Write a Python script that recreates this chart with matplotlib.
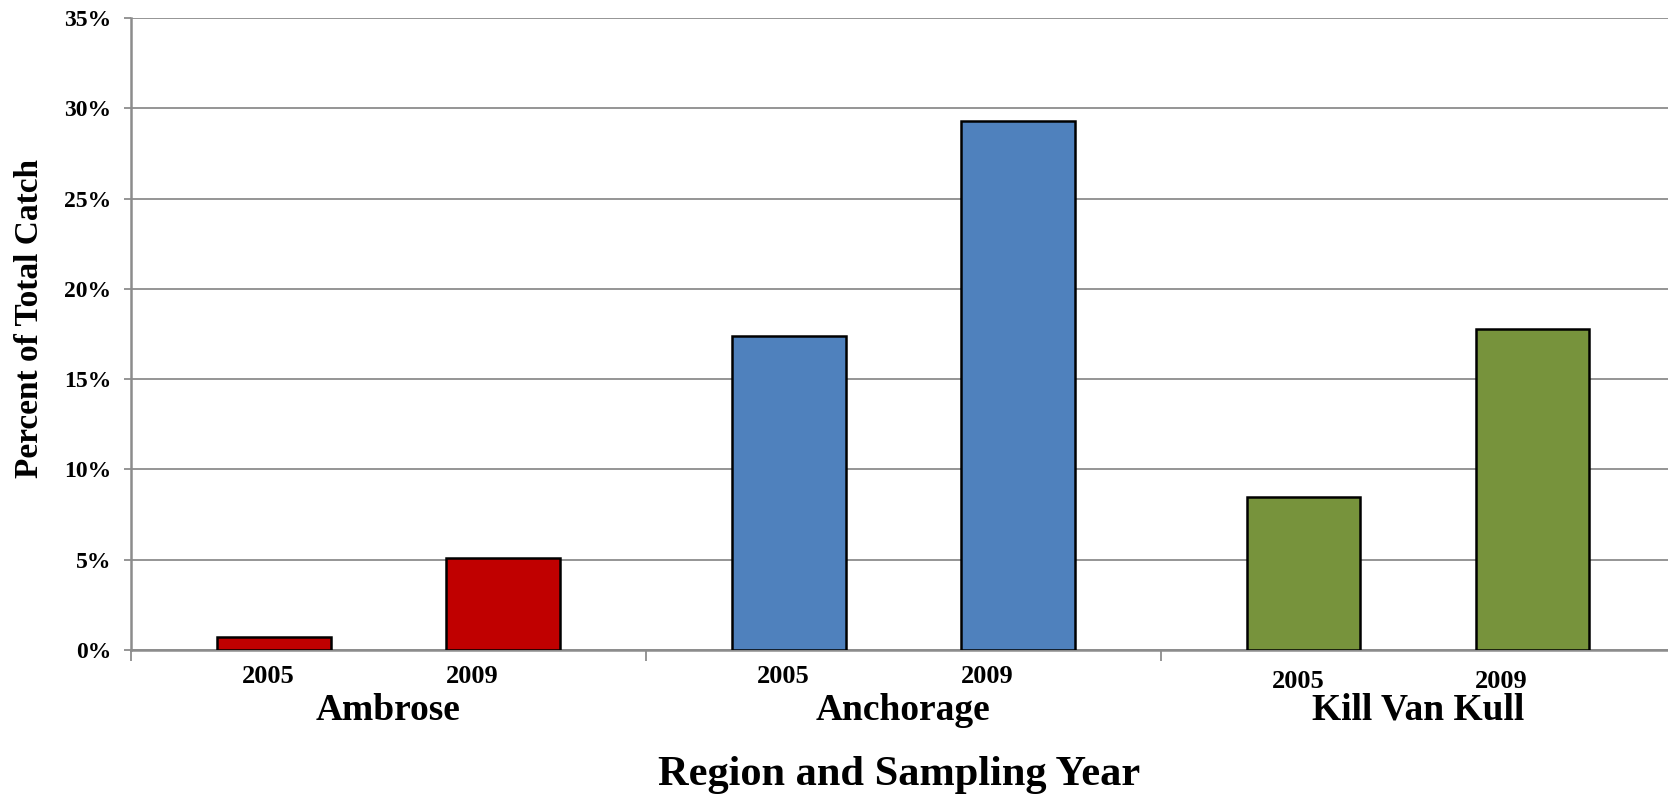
import matplotlib
matplotlib.use("Agg")
import matplotlib.pyplot as plt
import matplotlib.transforms as mtransforms
from matplotlib.ticker import FuncFormatter, MultipleLocator

# Percent of total catch by region and sampling year
regions = ["Ambrose", "Anchorage", "Kill Van Kull"]
years = ["2005", "2009"]
ambrose = [0.7, 5.1]
anchorage = [17.4, 29.3]
kill_van_kull = [8.5, 17.8]
region_colors = ["#C00000", "#4F81BD", "#77933C"]

series = [ambrose, anchorage, kill_van_kull]

plt.rcParams["font.family"] = ["Liberation Serif", "DejaVu Serif"]
plt.rcParams["font.weight"] = "bold"

W, H = 1668, 795
fig = plt.figure(figsize=(W / 100, H / 100), dpi=100)
ax = fig.add_axes([131 / W, 1 - 650 / H, (W - 131) / W, (650 - 18) / H])

grid_color = "#8c8c8c"
bar_width = 0.442
inner_shift = 0.055  # bars in a pair sit slightly toward each other
label_shift = [-0.02, -0.12]

for g, (vals, color) in enumerate(zip(series, region_colors)):
    for k, v in enumerate(vals):
        center = 2 * g + k + (inner_shift if k == 0 else -inner_shift)
        ax.bar(center, v, width=bar_width, color=color, edgecolor="black",
               linewidth=1.8, zorder=3)

ax.set_xlim(-0.5, 5.471)
ax.set_ylim(0, 35)
ax.yaxis.set_major_locator(MultipleLocator(5))
ax.yaxis.set_major_formatter(FuncFormatter(lambda v, p: f"{v:.0f}%"))
ax.grid(axis="y", color=grid_color, linewidth=1.3, zorder=0)
ax.set_axisbelow(True)

for s in ["top", "right"]:
    ax.spines[s].set_visible(False)
for s in ["left", "bottom"]:
    ax.spines[s].set_color(grid_color)
    ax.spines[s].set_linewidth(1.8)

ax.tick_params(axis="y", length=5, width=1.3, color=grid_color, pad=9,
               labelsize=17)
for lbl in ax.get_yticklabels():
    lbl.set_fontweight("bold")

# group separators on the category axis
ax.set_xticks([-0.5, 1.5, 3.5])
ax.set_xticklabels([])
ax.tick_params(axis="x", length=8, width=1.3, color=grid_color)

trans = mtransforms.blended_transform_factory(ax.transData, fig.transFigure)
year_baselines = [683, 683, 688]
for g, vals in enumerate(series):
    for k in range(len(vals)):
        center = 2 * g + k + (inner_shift if k == 0 else -inner_shift)
        fig.text(center + label_shift[k], 1 - year_baselines[g] / H, years[k],
                 transform=trans, ha="center", va="baseline", fontsize=19,
                 fontweight="bold")
    fig.text(2 * g + 0.5, 1 - 720 / H, regions[g], transform=trans,
             ha="center", va="baseline", fontsize=27, fontweight="bold")

fig.text(0.5 * (131 + W) / W, 1 - 785 / H, "Region and Sampling Year",
         ha="center", va="baseline", fontsize=30.5, fontweight="bold")
fig.text(30 / W, 1 - 319 / H, "Percent of Total Catch", rotation=90,
         ha="center", va="center", fontsize=24, fontweight="bold")

fig.savefig("out.png", dpi=100)
